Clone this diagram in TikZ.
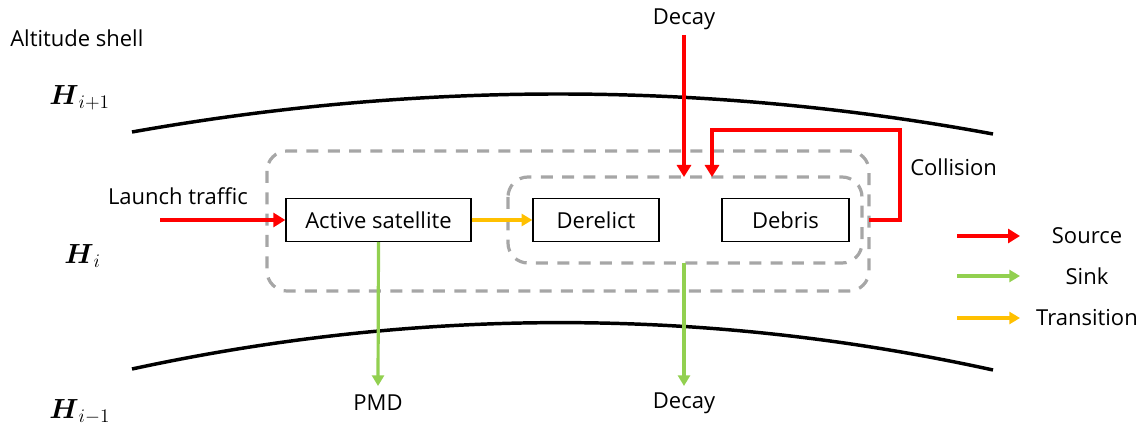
\documentclass[tikz,border=0pt]{standalone}
\usepackage{amsmath}
\usepackage{fontspec}
\setmainfont{Open Sans}
\usetikzlibrary{arrows.meta}
\definecolor{srcred}{HTML}{FF0000}
\definecolor{sinkgreen}{HTML}{92D050}
\definecolor{transyellow}{HTML}{FFC000}
\definecolor{dashgray}{HTML}{A6A6A6}
\tikzset{
  lbl/.style={font=\fontsize{16.5}{19}\selectfont, inner sep=0pt},
  hlbl/.style={font=\fontsize{20}{24}\selectfont, inner sep=0pt},
  box/.style={draw=black, line width=1pt, minimum height=32pt, inner sep=0pt, font=\fontsize{16.5}{19}\selectfont},
  shell/.style={draw=black, line width=2.6pt},
  group/.style={draw=dashgray, line width=2.4pt, dash pattern=on 9pt off 7pt, rounded corners=15pt},
  srcarrow/.style={draw=srcred, line width=3pt, -{Triangle[length=9pt,width=10.5pt]}},
  sinkarrow/.style={draw=sinkgreen, line width=2.4pt, -{Triangle[length=8pt,width=9pt]}},
  transarrow/.style={draw=transyellow, line width=2.4pt, -{Triangle[length=8pt,width=9pt]}},
}
\begin{document}
\begin{tikzpicture}[x=0.75pt,y=-0.75pt]
\useasboundingbox (0,0) rectangle (1143,431);
% altitude shells
\draw[shell] (132,132) .. controls (419,81) and (706,81) .. (993,134);
\draw[shell] (132,369) .. controls (419,307) and (706,307) .. (993,370);
% labels
\node[lbl, anchor=west] (alt) at (10,38) {Altitude shell};
\node[hlbl, anchor=west] (hip) at (49,98) {$\boldsymbol{H}_{i+1}$};
\node[hlbl, anchor=west] (hi) at (64,256) {$\boldsymbol{H}_{i}$};
\node[hlbl, anchor=west] (him) at (49,412) {$\boldsymbol{H}_{i-1}$};
% groups
\draw[group] (267,151) rectangle (869,291);
\draw[group] (508,177) rectangle (862,263);
\coordinate (innertop) at (684,177);
\coordinate (innertop2) at (712,177);
\coordinate (innerbot) at (684,263);
\coordinate (outerright) at (869,220);
% boxes
\node[box, minimum width=138.75pt] (act) at (378.5,220) {Active satellite};
\node[box, minimum width=94.5pt] (der) at (596,220) {Derelict};
\node[box, minimum width=95.25pt] (deb) at (785.5,220) {Debris};
% flows
\node[lbl] (launch) at (178,196) {Launch traffic};
\coordinate (launchstart) at (160,220);
\draw[srcarrow] (launchstart) -- (act.west);
\draw[transarrow] (act.east) -- (der.west);
\node[lbl] (pmd) at (378,403) {PMD};
\draw[sinkarrow] (act.south) -- (378,386) coordinate (pmdend);
\node[lbl] (decaybot) at (684,403) {Decay};
\draw[sinkarrow] (innerbot) -- (684,386);
\node[lbl] (decaytop) at (684,19) {Decay};
\draw[srcarrow] (684,35) -- (innertop);
\node[lbl, anchor=west] (coll) at (910,167) {Collision};
\draw[srcarrow, rounded corners=0pt] (outerright) -- (900,220) -- (900,130) -- (712,130) -- (innertop2);
% legend
\coordinate (l1s) at (957,236); \coordinate (l1e) at (1020,236);
\coordinate (l2s) at (957,276); \coordinate (l2e) at (1020,276);
\coordinate (l3s) at (957,318); \coordinate (l3e) at (1020,318);
\draw[srcarrow] (l1s) -- (l1e);
\draw[sinkarrow] (l2s) -- (l2e);
\draw[transarrow] (l3s) -- (l3e);
\node[lbl] (src) at (1087,236) {Source};
\node[lbl] (sink) at (1087,276) {Sink};
\node[lbl] (trans) at (1087,318) {Transition};
\end{tikzpicture}
\end{document}
